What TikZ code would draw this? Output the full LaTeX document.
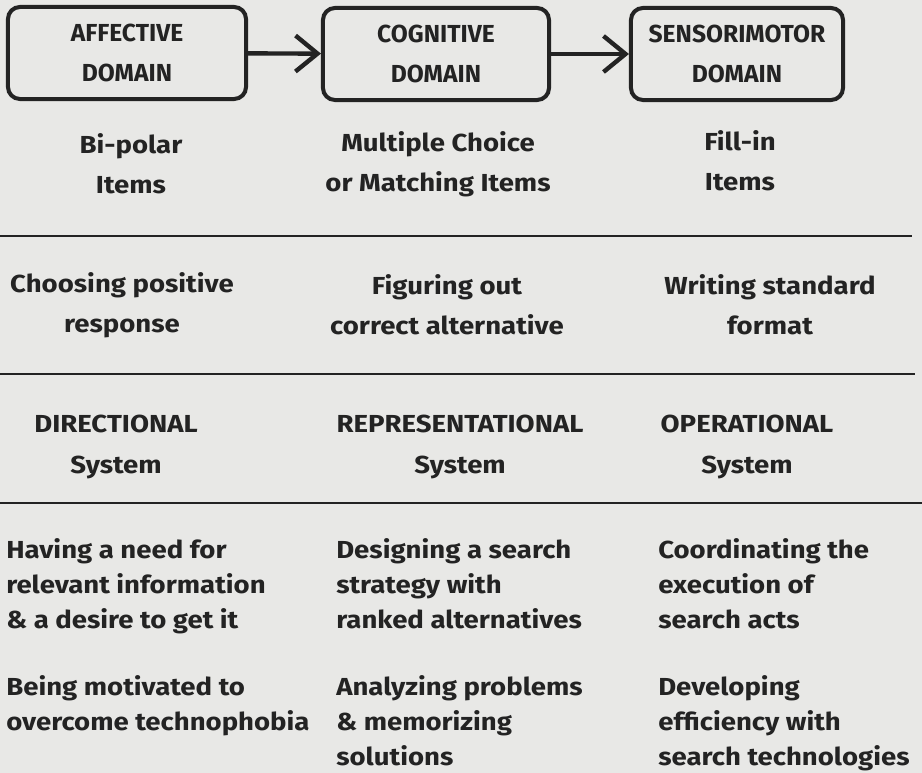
\documentclass[tikz,border=0pt]{standalone}
\usepackage{fontspec}
\setmainfont{Fira Sans}
\newfontfamily\widefont[FakeStretch=1.12]{Fira Sans}
\newfontfamily\taskfont[FakeStretch=1.12]{Fira Sans}
\usepackage{tikz}
\usetikzlibrary{arrows.meta,positioning}
\definecolor{paper}{RGB}{232,232,230}
\definecolor{ink}{RGB}{35,35,35}

\begin{document}
\begin{tikzpicture}[x=0.025cm, y=-0.025cm, ink,
    domainbox/.style={draw=ink, line width=0.1cm, rounded corners=0.3cm,
      minimum height=2.3cm, align=center, font=\bfseries\fontsize{17.5}{28.5}\selectfont},
    itemtext/.style={align=center, font=\widefont\bfseries\fontsize{17.5}{28.5}\selectfont},
    tasktext/.style={align=left, anchor=north west, inner sep=0pt,
      font=\taskfont\bfseries\fontsize{17.5}{24.9}\selectfont},
    sepline/.style={line width=0.05cm}]
        % paper and bounding box
        \fill[paper] (0,0) rectangle (922,773);
        \useasboundingbox (0,0) rectangle (922,773);
        % the three domains
        \node[domainbox, minimum width=5.95cm] (affective) at (127,53) {AFFECTIVE\\DOMAIN};
        \node[domainbox, minimum width=5.65cm] (cognitive) at (436,54) {COGNITIVE\\DOMAIN};
        \node[domainbox, minimum width=5.3cm] (sensorimotor) at (737,54) {SENSORIMOTOR\\DOMAIN};
        \draw[-{Straight Barb[length=0.55cm, width=0.9cm]}, line width=0.11cm]
          (affective) -- (cognitive);
        \draw[-{Straight Barb[length=0.55cm, width=0.9cm]}, line width=0.11cm]
          (cognitive) -- (sensorimotor);
        % item types
        \node[itemtext] (bipolar) at (131,164) {Bi-polar\\Items};
        \node[itemtext] (multiple) at (438,164) {Multiple Choice\\or Matching Items};
        \node[itemtext] (fillin) at (740,161) {Fill-in\\Items};
        \draw[sepline] (0,236) -- (912,236);
        % responses
        \node[itemtext] (choosing) at (122,305) {Choosing positive\\response};
        \node[itemtext] (figuring) at (447,305) {Figuring out\\correct alternative};
        \node[itemtext] (writing) at (770,305) {Writing standard\\format};
        \draw[sepline] (0,374) -- (915,374);
        % systems
        \node[itemtext] (directional) at (116,447) {DIRECTIONAL\\System};
        \node[itemtext] (representational) at (460,447) {REPRESENTATIONAL\\System};
        \node[itemtext] (operational) at (747,447) {OPERATIONAL\\System};
        \draw[sepline] (0,503) -- (922,503);
        % search tasks
        \node[tasktext] (having) at (6,538)
          {Having a need for\\relevant information\\\& a desire to get it};
        \node[tasktext] (designing) at (336,538)
          {Designing a search\\strategy with\\ranked alternatives};
        \node[tasktext] (coordinating) at (658,538)
          {Coordinating the\\execution of\\search acts};
        \node[tasktext] (being) at (6,675)
          {Being motivated to\\overcome technophobia};
        \node[tasktext] (analyzing) at (336,675)
          {Analyzing problems\\\& memorizing\\solutions};
        \node[tasktext] (developing) at (658,675)
          {Developing\\efficiency with\\search technologies};
      \end{tikzpicture}
\end{document}
